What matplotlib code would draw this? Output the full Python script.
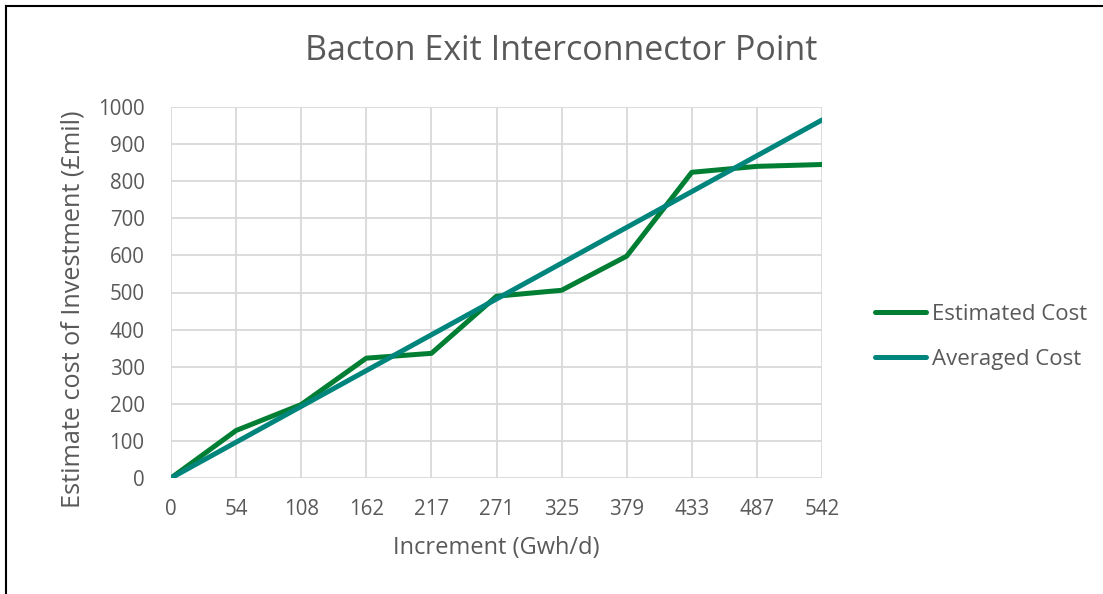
import matplotlib
matplotlib.use("Agg")
import matplotlib.pyplot as plt
from matplotlib.lines import Line2D

categories = ["0", "54", "108", "162", "217", "271", "325", "379", "433", "487", "542"]
estimated_cost = [0, 128, 198, 323, 336, 490, 506, 598, 824, 840, 845]
averaged_cost = [0, 96.5, 193, 289.5, 386, 482.5, 579, 675.5, 772, 868.5, 965]
y_ticks = [0, 100, 200, 300, 400, 500, 600, 700, 800, 900, 1000]

plt.rcParams['font.family'] = ['Open Sans', 'DejaVu Sans']
gray = '#595959'

fig = plt.figure(figsize=(11.03, 5.94), dpi=100)
ax = fig.add_axes([171/1103, 1-478/594, (822-171)/1103, (478-107)/594])

x = list(range(len(categories)))
ax.plot(x, estimated_cost, color='#007E33', lw=3.6, label='Estimated Cost', solid_capstyle='round', zorder=3)
ax.plot(x, averaged_cost, color='#00857D', lw=3.6, label='Averaged Cost', solid_capstyle='round', zorder=4)

ax.set_xlim(0, len(categories)-1)
ax.set_ylim(0, 1000)
ax.set_xticks(x)
ax.set_xticklabels(categories)
ax.set_yticks(y_ticks)
ax.grid(True, color='#D9D9D9', lw=1.3)
ax.set_axisbelow(True)
for s in ax.spines.values():
    s.set_visible(False)
ax.tick_params(axis='both', length=0, labelsize=14.8, colors=gray)
ax.tick_params(axis='x', pad=15)
ax.tick_params(axis='y', pad=19)

ax.set_xlabel('Increment (Gwh/d)', fontsize=17, color=gray, labelpad=12)
ax.set_ylabel('Estimate cost of Investment (£mil)', fontsize=18.2, color=gray)
ax.yaxis.set_label_coords(-0.131, 0.4555)
fig.text(561/1103, 1-51/594, 'Bacton Exit Interconnector Point', ha='center', va='center', fontsize=24.5, color=gray)

leg = ax.legend(loc='center left', bbox_to_anchor=(855/1103, 1-337/594), bbox_transform=fig.transFigure,
                frameon=False, fontsize=16, labelcolor=gray, handlelength=2.3, handletextpad=0.25, labelspacing=1.1)

fig.add_artist(Line2D([6/1103, 6/1103], [0, 1-6/594], transform=fig.transFigure, color='black', lw=1.5))
fig.add_artist(Line2D([6/1103, 1], [1-6/594, 1-6/594], transform=fig.transFigure, color='black', lw=1.5))

fig.savefig('out.png', dpi=100)
